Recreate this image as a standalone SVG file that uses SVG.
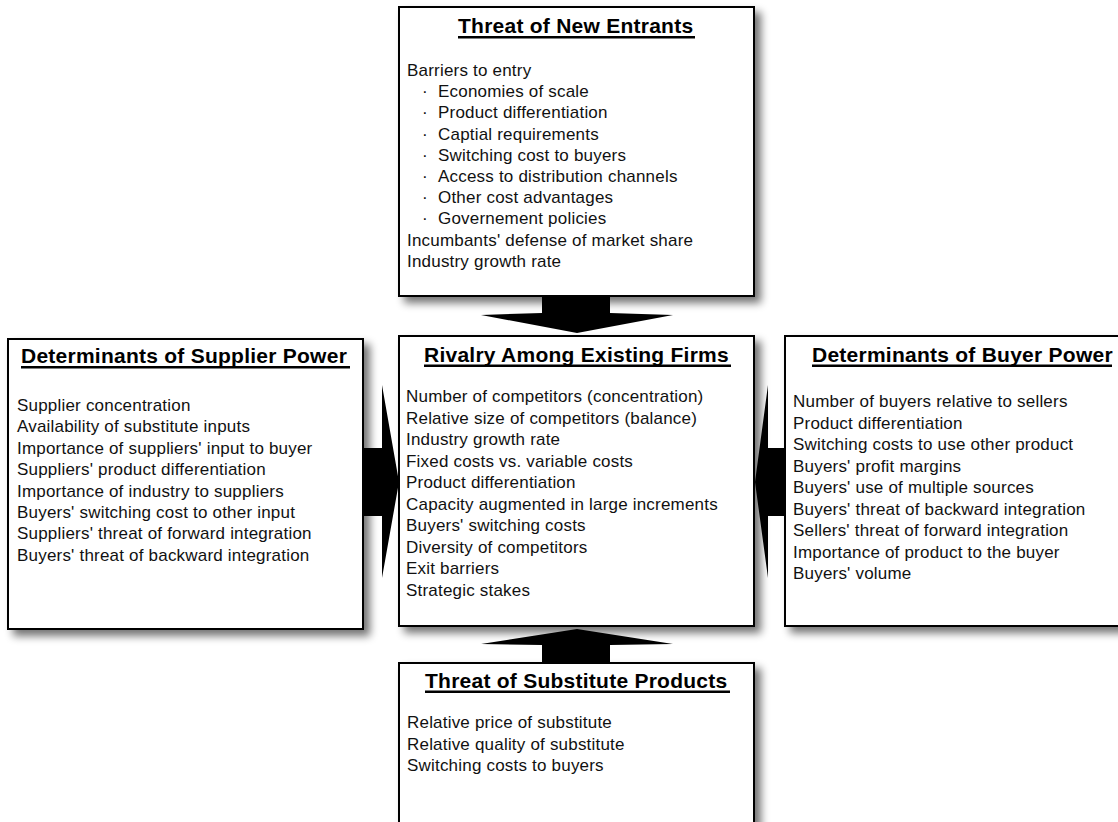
<svg xmlns="http://www.w3.org/2000/svg" width="1118" height="822" viewBox="0 0 1118 822">
  <defs>
    <filter id="shadow" x="-10%" y="-10%" width="130%" height="130%">
      <feGaussianBlur in="SourceAlpha" stdDeviation="4"/>
      <feOffset dx="6" dy="6" result="blur"/>
      <feComponentTransfer><feFuncA type="linear" slope="0.55"/></feComponentTransfer>
      <feMerge><feMergeNode/><feMergeNode in="SourceGraphic"/></feMerge>
    </filter>
    <style>
      .box { fill: #ffffff; stroke: #000000; stroke-width: 2; }
      .title { font-family: "Liberation Sans", Arial, sans-serif; font-weight: bold; font-size: 21px; letter-spacing: 0.25px; fill: #000000; }
      .uline { fill: #000000; }
      .body { font-family: "Liberation Sans", Arial, sans-serif; font-size: 17px; letter-spacing: 0.2px; fill: #111111; }
      .arrow { fill: #000000; }
    </style>
  </defs>

  <rect width="1118" height="822" fill="#ffffff"/>

  <!-- Top node: threat of new entrants -->
  <g id="new-entrants">
    <rect class="box" x="399" y="7" width="355" height="289" filter="url(#shadow)"/>
    <text class="title" x="458" y="33">Threat of New Entrants</text>
    <rect class="uline" x="458" y="36" width="237" height="2.5"/>
    <text class="body" x="407" y="76">Barriers to entry</text>
    <text class="body" x="422" y="97.2">·</text><text class="body" x="438" y="97.2">Economies of scale</text>
    <text class="body" x="422" y="118.4">·</text><text class="body" x="438" y="118.4">Product differentiation</text>
    <text class="body" x="422" y="139.6">·</text><text class="body" x="438" y="139.6">Captial requirements</text>
    <text class="body" x="422" y="160.8">·</text><text class="body" x="438" y="160.8">Switching cost to buyers</text>
    <text class="body" x="422" y="182">·</text><text class="body" x="438" y="182">Access to distribution channels</text>
    <text class="body" x="422" y="203.2">·</text><text class="body" x="438" y="203.2">Other cost advantages</text>
    <text class="body" x="422" y="224.4">·</text><text class="body" x="438" y="224.4">Governement policies</text>
    <text class="body" x="407" y="245.6">Incumbants' defense of market share</text>
    <text class="body" x="407" y="266.8">Industry growth rate</text>
  </g>

  <!-- Left node: supplier power -->
  <g id="supplier-power">
    <rect class="box" x="8" y="339" width="355" height="290" filter="url(#shadow)"/>
    <text class="title" x="21" y="363">Determinants of Supplier Power</text>
    <rect class="uline" x="21" y="366" width="329" height="2.5"/>
    <text class="body" x="17" y="411">Supplier concentration</text>
    <text class="body" x="17" y="432.4">Availability of substitute inputs</text>
    <text class="body" x="17" y="453.8">Importance of suppliers' input to buyer</text>
    <text class="body" x="17" y="475.2">Suppliers' product differentiation</text>
    <text class="body" x="17" y="496.6">Importance of industry to suppliers</text>
    <text class="body" x="17" y="518">Buyers' switching cost to other input</text>
    <text class="body" x="17" y="539.4">Suppliers' threat of forward integration</text>
    <text class="body" x="17" y="560.8">Buyers' threat of backward integration</text>
  </g>

  <!-- Centre node: rivalry -->
  <g id="rivalry">
    <rect class="box" x="399" y="336" width="355" height="290" filter="url(#shadow)"/>
    <text class="title" x="424" y="362">Rivalry Among Existing Firms</text>
    <rect class="uline" x="424" y="364.5" width="307" height="2.5"/>
    <text class="body" x="406" y="402">Number of competitors (concentration)</text>
    <text class="body" x="406" y="423.5">Relative size of competitors (balance)</text>
    <text class="body" x="406" y="445">Industry growth rate</text>
    <text class="body" x="406" y="466.5">Fixed costs vs. variable costs</text>
    <text class="body" x="406" y="488">Product differentiation</text>
    <text class="body" x="406" y="509.5">Capacity augmented in large increments</text>
    <text class="body" x="406" y="531">Buyers' switching costs</text>
    <text class="body" x="406" y="552.5">Diversity of competitors</text>
    <text class="body" x="406" y="574">Exit barriers</text>
    <text class="body" x="406" y="595.5">Strategic stakes</text>
  </g>

  <!-- Right node: buyer power -->
  <g id="buyer-power">
    <rect class="box" x="785" y="336" width="360" height="290" filter="url(#shadow)"/>
    <text class="title" x="812" y="362">Determinants of Buyer Power</text>
    <rect class="uline" x="812" y="364.5" width="300" height="2.5"/>
    <text class="body" x="793" y="407">Number of buyers relative to sellers</text>
    <text class="body" x="793" y="428.5">Product differentiation</text>
    <text class="body" x="793" y="450">Switching costs to use other product</text>
    <text class="body" x="793" y="471.5">Buyers' profit margins</text>
    <text class="body" x="793" y="493">Buyers' use of multiple sources</text>
    <text class="body" x="793" y="514.5">Buyers' threat of backward integration</text>
    <text class="body" x="793" y="536">Sellers' threat of forward integration</text>
    <text class="body" x="793" y="557.5">Importance of product to the buyer</text>
    <text class="body" x="793" y="579">Buyers' volume</text>
  </g>

  <!-- Bottom node: substitutes -->
  <g id="substitutes">
    <rect class="box" x="399" y="663" width="355" height="200" filter="url(#shadow)"/>
    <text class="title" x="425" y="688">Threat of Substitute Products</text>
    <rect class="uline" x="425" y="690.5" width="305" height="2.5"/>
    <text class="body" x="407" y="728">Relative price of substitute</text>
    <text class="body" x="407" y="749.5">Relative quality of substitute</text>
    <text class="body" x="407" y="771">Switching costs to buyers</text>
  </g>

  <!-- Block arrows pointing into the centre -->
  <g id="connectors">
    <polygon class="arrow" points="542,297 610,297 610,313 673,315 577,333 481,315 542,313"/>
    <polygon class="arrow" points="542,662 610,662 610,645 673,644 577,629 481,644 542,645"/>
    <polygon class="arrow" points="364,448 382,448 382,385 399,482 382,578 382,516 364,516"/>
    <polygon class="arrow" points="784,448 768,448 768,385 755,482 768,578 768,516 784,516"/>
  </g>
</svg>
